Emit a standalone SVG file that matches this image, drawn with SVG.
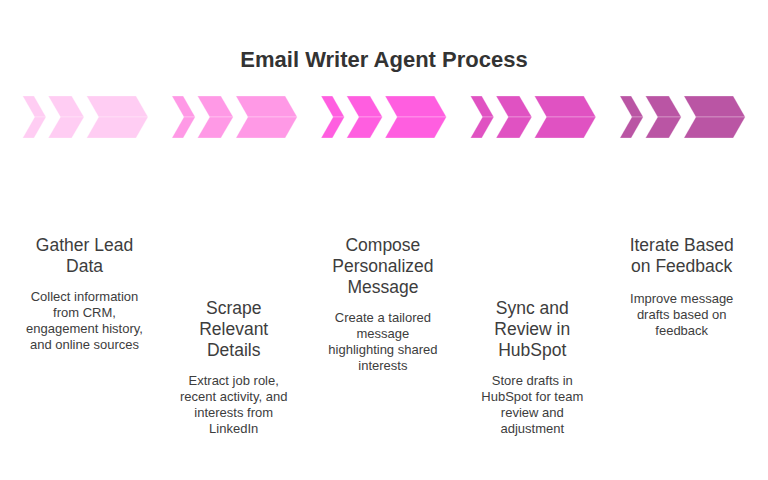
<svg xmlns="http://www.w3.org/2000/svg" xmlns:xlink="http://www.w3.org/1999/xlink" width="768" height="480" viewBox="0 0 768 480">
<style>
  .title{font-family:"Liberation Sans",Arial,sans-serif;font-weight:bold;font-size:22px;fill:#333;text-anchor:middle}
  .head{font-family:"Liberation Sans",Arial,sans-serif;font-size:17.5px;fill:#3d3d3d;text-anchor:middle}
  .desc{font-family:"Liberation Sans",Arial,sans-serif;font-size:13px;fill:#3d3d3d;text-anchor:middle}
  .half{stroke:#ffffff;stroke-opacity:0.35;stroke-width:0.8}
</style>
<defs>
  <g id="chev">
    <polygon class="half" points="22.7,96 34,96 46,117 34.7,117"/>
    <polygon class="half" points="34.7,117 46,117 34,138 22.7,138"/>
    <polygon class="half" points="48.3,96 71.7,96 84,117 60.5,117"/>
    <polygon class="half" points="60.5,117 84,117 71.7,138 48.3,138"/>
    <polygon class="half" points="86.7,96 136,96 148,117 98.7,117"/>
    <polygon class="half" points="98.7,117 148,117 136,138 86.7,138"/>
  </g>
</defs>
<rect width="768" height="480" fill="#ffffff"/>
<text class="title" x="384" y="66.5">Email Writer Agent Process</text>
<g id="connectors"/>
<g id="step1">
  <use xlink:href="#chev" href="#chev" fill="#ffcdf3"/>
  <text class="head" x="84.5" y="251">Gather Lead</text>
  <text class="head" x="84.5" y="272">Data</text>
  <text class="desc" x="84.5" y="301">Collect information</text>
  <text class="desc" x="84.5" y="317">from CRM,</text>
  <text class="desc" x="84.5" y="333">engagement history,</text>
  <text class="desc" x="84.5" y="349">and online sources</text>
</g>
<g id="step2">
  <use xlink:href="#chev" href="#chev" transform="translate(149.2,0)" fill="#ff99e6"/>
  <text class="head" x="233.7" y="314">Scrape</text>
  <text class="head" x="233.7" y="335">Relevant</text>
  <text class="head" x="233.7" y="356">Details</text>
  <text class="desc" x="233.7" y="385">Extract job role,</text>
  <text class="desc" x="233.7" y="401">recent activity, and</text>
  <text class="desc" x="233.7" y="417">interests from</text>
  <text class="desc" x="233.7" y="433">LinkedIn</text>
</g>
<g id="step3">
  <use xlink:href="#chev" href="#chev" transform="translate(298.4,0)" fill="#ff5ee0"/>
  <text class="head" x="382.9" y="251">Compose</text>
  <text class="head" x="382.9" y="272">Personalized</text>
  <text class="head" x="382.9" y="293">Message</text>
  <text class="desc" x="382.9" y="322">Create a tailored</text>
  <text class="desc" x="382.9" y="338">message</text>
  <text class="desc" x="382.9" y="354">highlighting shared</text>
  <text class="desc" x="382.9" y="370">interests</text>
</g>
<g id="step4">
  <use xlink:href="#chev" href="#chev" transform="translate(447.8,0)" fill="#e052c2"/>
  <text class="head" x="532.3" y="314">Sync and</text>
  <text class="head" x="532.3" y="335">Review in</text>
  <text class="head" x="532.3" y="356">HubSpot</text>
  <text class="desc" x="532.3" y="385">Store drafts in</text>
  <text class="desc" x="532.3" y="401">HubSpot for team</text>
  <text class="desc" x="532.3" y="417">review and</text>
  <text class="desc" x="532.3" y="433">adjustment</text>
</g>
<g id="step5">
  <use xlink:href="#chev" href="#chev" transform="translate(597.2,0)" fill="#ba55a4"/>
  <text class="head" x="681.7" y="251">Iterate Based</text>
  <text class="head" x="681.7" y="272">on Feedback</text>
  <text class="desc" x="681.7" y="303">Improve message</text>
  <text class="desc" x="681.7" y="319">drafts based on</text>
  <text class="desc" x="681.7" y="335">feedback</text>
</g>
</svg>
